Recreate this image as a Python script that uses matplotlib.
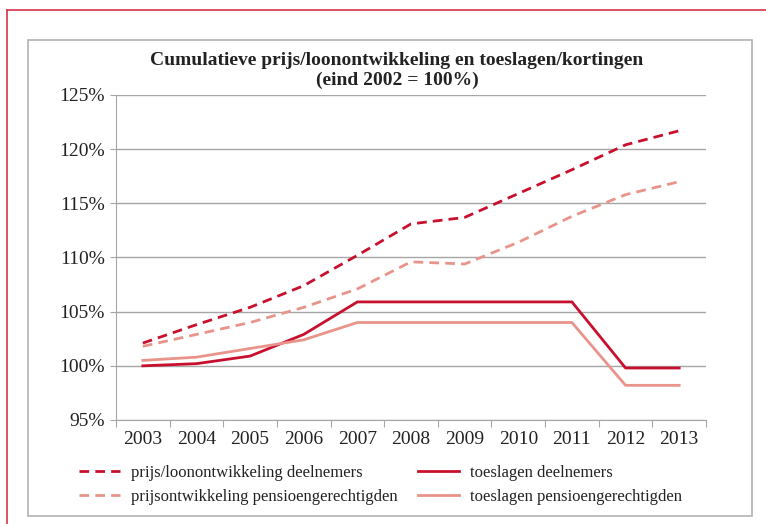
import matplotlib.pyplot as plt
from matplotlib.lines import Line2D
from matplotlib.patches import Rectangle

plt.rcParams['font.family'] = ['Liberation Serif', 'DejaVu Serif']

years = ['2003', '2004', '2005', '2006', '2007', '2008', '2009', '2010', '2011', '2012', '2013']

# cumulative index, end 2002 = 100
prijs_loon_deeln = [102.1, 103.8, 105.4, 107.4, 110.2, 113.1, 113.7, 115.9, 118.1, 120.4, 121.7]
prijs_pens = [101.8, 102.9, 104.0, 105.4, 107.1, 109.6, 109.4, 111.4, 113.8, 115.8, 117.0]
toesl_deeln = [100.0, 100.2, 100.9, 102.9, 105.9, 105.9, 105.9, 105.9, 105.9, 99.8, 99.8]
toesl_pens = [100.5, 100.8, 101.6, 102.4, 104.0, 104.0, 104.0, 104.0, 104.0, 98.2, 98.2]

labels = ['prijs/loonontwikkeling deelnemers', 'prijsontwikkeling pensioengerechtigden',
          'toeslagen deelnemers', 'toeslagen pensioengerechtigden']

dark = '#C8102E'
light = '#E8948A'
grid_c = '#A6A6A6'
txt_c = '#222222'

fig = plt.figure(figsize=(7.66, 5.24), dpi=100)

# red page frame and grey chart box
fig.add_artist(Line2D([7 / 766, 7 / 766], [0, 1 - 10 / 524], color='#D9344A', lw=1.2))
fig.add_artist(Line2D([7 / 766, 1], [1 - 10 / 524, 1 - 10 / 524], color='#D9344A', lw=1.2))
fig.add_artist(Rectangle((28 / 766, 1 - 516 / 524), 724 / 766, 476 / 524,
                         fill=False, edgecolor='#B3B3B3', lw=1.2))

ax = fig.add_axes([116 / 766, 1 - 420 / 524, 590 / 766, 325 / 524])
x = range(len(years))
dash = (0, (3.5, 2.2))
l1, = ax.plot(x, prijs_loon_deeln, color=dark, lw=2, ls=dash, label=labels[0])
l2, = ax.plot(x, prijs_pens, color=light, lw=2, ls=dash, label=labels[1])
l3, = ax.plot(x, toesl_deeln, color=dark, lw=2, label=labels[2])
l4, = ax.plot(x, toesl_pens, color=light, lw=2, label=labels[3])

ax.set_xlim(-0.5, len(years) - 0.5)
ax.set_ylim(95, 125)
ax.set_yticks(range(95, 126, 5))
ax.set_yticklabels([f'{v}%' for v in range(95, 126, 5)], fontsize=14, color=txt_c)
ax.set_xticks([i - 0.5 for i in range(len(years) + 1)])
ax.set_xticklabels([])
ax.set_xticks(list(x), minor=True)
ax.set_xticklabels(years, minor=True, fontsize=14, color=txt_c)
ax.tick_params(axis='x', which='minor', length=0, pad=8)
ax.tick_params(axis='x', which='major', length=5, color=grid_c, direction='out')
ax.tick_params(axis='y', length=4, color=grid_c, pad=4)
ax.grid(axis='y', color=grid_c, lw=1)
ax.set_axisbelow(True)
for s in ['top', 'right']:
    ax.spines[s].set_visible(False)
for s in ['left', 'bottom']:
    ax.spines[s].set_color(grid_c)

fig.text(397 / 766, 1 - 70.5 / 524,
         'Cumulatieve prijs/loonontwikkeling en toeslagen/kortingen\n(eind 2002 = 100%)',
         ha='center', va='center', fontsize=14, fontweight='bold', linespacing=1.2,
         color=txt_c)

leg_kw = dict(loc='center left', frameon=False, fontsize=12, handlelength=2.46,
              handletextpad=0.66, labelspacing=0.5, borderpad=0, borderaxespad=0,
              labelcolor=txt_c)
fig.legend([l1, l2], labels[:2], bbox_to_anchor=(79 / 766, 1 - 485 / 524), **leg_kw)
fig.legend([l3, l4], labels[2:], bbox_to_anchor=(418 / 766, 1 - 485 / 524), **leg_kw)

fig.savefig('out.png', dpi=100)
